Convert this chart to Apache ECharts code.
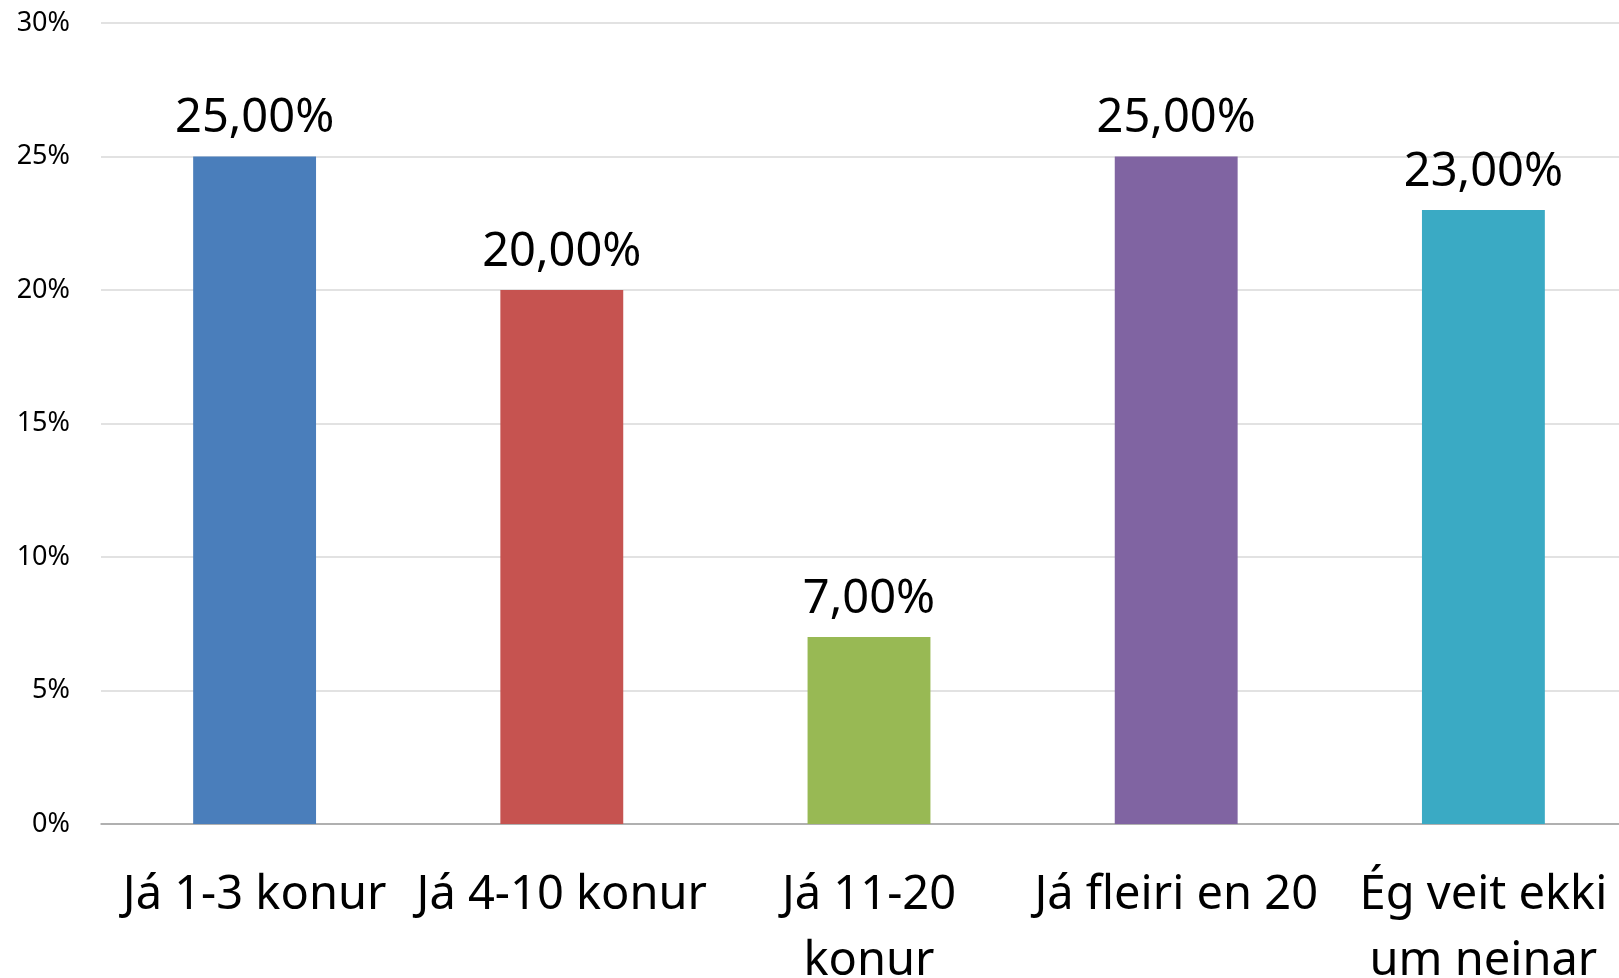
<!DOCTYPE html>
<html>
<head>
<meta charset="utf-8">
<script src="https://cdn.jsdelivr.net/npm/echarts@6/dist/echarts.min.js"></script>
<style>
  html, body { margin: 0; padding: 0; background: #fff; }
  #chart { width: 1619px; height: 978px; }
</style>
</head>
<body>
<div id="chart"></div>
<script>
// categories (line breaks as shown in the original)
var categories = ["Já 1-3 konur", "Já 4-10 konur", "Já 11-20\nkonur", "Já fleiri en 20", "Ég veit ekki\num neinar"];
var values = [25, 20, 7, 25, 23];
var barColors = ["#4A7EBB", "#C65350", "#98B954", "#8064A2", "#3AAAC4"];
var yTicks = [0, 5, 10, 15, 20, 25, 30];

var chart = echarts.init(document.getElementById("chart"));

var option = {
  animation: false,
  grid: {
    left: 101,
    right: -18, // plot area runs a bit past the right edge in the original
    top: 23,
    bottom: 154,
    containLabel: false,
    outerBoundsMode: "none"
  },
  xAxis: {
    type: "category",
    data: categories,
    axisTick: { show: false },
    axisLine: {
      lineStyle: { color: "#A0A0A0", width: 1.5 }
    },
    axisLabel: {
      interval: 0,
      margin: 39,
      color: "#000",
      fontSize: 47,
      lineHeight: 66,
      fontFamily: "Noto Sans"
    }
  },
  yAxis: {
    type: "value",
    min: yTicks[0],
    max: yTicks[yTicks.length - 1],
    interval: 5,
    axisLine: { show: false },
    axisTick: { show: false },
    axisLabel: {
      margin: 31,
      color: "#000",
      fontSize: 27,
      fontFamily: "Noto Sans",
      formatter: "{value}%"
    },
    splitLine: {
      lineStyle: { color: "#D9D9D9", width: 1.5 }
    }
  },
  series: [
    {
      type: "bar",
      barWidth: "40%",
      data: values.map(function (v, i) {
        return { value: v, itemStyle: { color: barColors[i] } };
      }),
      label: {
        show: true,
        position: "top",
        distance: 14,
        color: "#000",
        fontSize: 47,
        fontFamily: "Noto Sans",
        formatter: function (p) {
          return p.value.toFixed(2).replace(".", ",") + "%";
        }
      }
    }
  ]
};

chart.setOption(option);
</script>
</body>
</html>
